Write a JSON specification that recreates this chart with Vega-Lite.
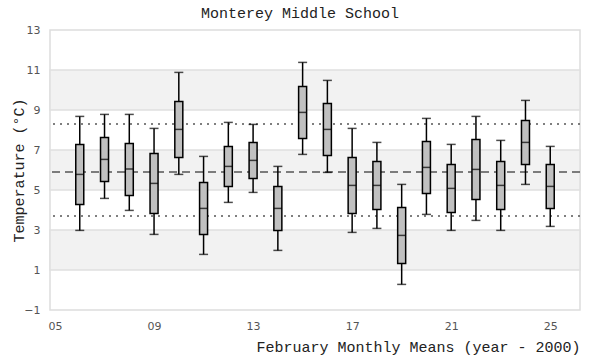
{
  "$schema": "https://vega.github.io/schema/vega-lite/v6.json",
  "autosize": "none",
  "width": 530,
  "height": 280,
  "padding": {"left": 50, "top": 30, "right": 20, "bottom": 50},
  "background": "white",
  "title": {"text": "Monterey Middle School", "font": "Liberation Mono", "fontSize": 15, "fontWeight": "normal", "color": "#222", "anchor": "middle", "dx": -15, "offset": 3},
  "config": {
    "view": {"stroke": "#dddddd", "strokeWidth": 1.5},
    "axis": {"labelFont": "DejaVu Sans", "labelFontSize": 11, "labelColor": "#555", "labelOverlap": false, "titleFont": "Liberation Mono", "titleFontSize": 15, "titleFontWeight": "normal", "titleColor": "#222", "domain": false, "ticks": false}
  },
  "datasets": {
    "boxes": [
      {"year": 6, "lo": 2.98, "q1": 4.28, "med": 5.78, "q3": 7.28, "hi": 8.68},
      {"year": 7, "lo": 4.58, "q1": 5.43, "med": 6.53, "q3": 7.63, "hi": 8.78},
      {"year": 8, "lo": 3.98, "q1": 4.73, "med": 6.05, "q3": 7.33, "hi": 8.78},
      {"year": 9, "lo": 2.78, "q1": 3.83, "med": 5.33, "q3": 6.83, "hi": 8.08},
      {"year": 10, "lo": 5.78, "q1": 6.63, "med": 8.03, "q3": 9.43, "hi": 10.88},
      {"year": 11, "lo": 1.78, "q1": 2.78, "med": 4.08, "q3": 5.38, "hi": 6.68},
      {"year": 12, "lo": 4.38, "q1": 5.18, "med": 6.18, "q3": 7.18, "hi": 8.38},
      {"year": 13, "lo": 4.88, "q1": 5.58, "med": 6.48, "q3": 7.38, "hi": 8.28},
      {"year": 14, "lo": 1.98, "q1": 2.98, "med": 4.08, "q3": 5.18, "hi": 6.18},
      {"year": 15, "lo": 6.78, "q1": 7.58, "med": 8.88, "q3": 10.18, "hi": 11.38},
      {"year": 16, "lo": 5.88, "q1": 6.73, "med": 8.03, "q3": 9.33, "hi": 10.48},
      {"year": 17, "lo": 2.88, "q1": 3.83, "med": 5.23, "q3": 6.63, "hi": 8.08},
      {"year": 18, "lo": 3.08, "q1": 4.03, "med": 5.23, "q3": 6.43, "hi": 7.38},
      {"year": 19, "lo": 0.28, "q1": 1.33, "med": 2.73, "q3": 4.13, "hi": 5.28},
      {"year": 20, "lo": 3.78, "q1": 4.83, "med": 6.13, "q3": 7.43, "hi": 8.58},
      {"year": 21, "lo": 2.98, "q1": 3.88, "med": 5.08, "q3": 6.28, "hi": 7.28},
      {"year": 22, "lo": 3.48, "q1": 4.53, "med": 6.03, "q3": 7.53, "hi": 8.68},
      {"year": 23, "lo": 2.98, "q1": 4.03, "med": 5.23, "q3": 6.43, "hi": 7.48},
      {"year": 24, "lo": 5.28, "q1": 6.28, "med": 7.38, "q3": 8.48, "hi": 9.48},
      {"year": 25, "lo": 3.18, "q1": 4.08, "med": 5.18, "q3": 6.28, "hi": 7.18}
    ],
    "bands": [
      {"from": 9, "to": 11},
      {"from": 5, "to": 7},
      {"from": 1, "to": 3}
    ],
    "mean": [{"v": 5.9}],
    "spread": [{"v": 8.3}, {"v": 3.7}]
  },
  "encoding": {
    "y": {"type": "quantitative", "scale": {"domain": [-1, 13], "nice": false, "zero": false},
          "axis": {"title": "Temperature (°C)", "values": [-1, 1, 3, 5, 7, 9, 11, 13], "grid": false, "labelPadding": 10, "titlePadding": -3, "labelOverlap": false, "labelBound": false}}
  },
  "layer": [
    {
      "data": {"name": "bands"},
      "mark": {"type": "rect", "fill": "#f2f2f2", "stroke": "#e0e0e0", "strokeWidth": 1.5},
      "encoding": {
        "y": {"field": "from", "type": "quantitative", "title": "Temperature (°C)"},
        "y2": {"field": "to"}
      }
    },
    {
      "data": {"name": "spread"},
      "mark": {"type": "rule", "color": "#555", "strokeWidth": 1.5, "strokeDash": [2, 5]},
      "encoding": {"y": {"field": "v", "type": "quantitative", "title": "Temperature (°C)"}}
    },
    {
      "data": {"name": "mean"},
      "mark": {"type": "rule", "color": "#555", "strokeWidth": 1.5, "strokeDash": [8, 5]},
      "encoding": {"y": {"field": "v", "type": "quantitative", "title": "Temperature (°C)"}}
    },
    {
      "data": {"name": "boxes"},
      "encoding": {
        "x": {"field": "year", "type": "quantitative", "scale": {"domain": [5, 26], "nice": false, "zero": false},
              "axis": {"title": "February Monthly Means (year - 2000)", "values": [5, 9, 13, 17, 21, 25], "grid": false, "labelPadding": 10, "labelExpr": "datum.value < 10 ? '0' + datum.value : '' + datum.value", "titleAnchor": "end", "titlePadding": 8}}
      },
      "layer": [
        {
          "mark": {"type": "rule", "color": "black", "strokeWidth": 1.5},
          "encoding": {"y": {"field": "lo", "type": "quantitative", "title": "Temperature (°C)"}, "y2": {"field": "hi"}}
        },
        {
          "mark": {"type": "tick", "orient": "horizontal", "color": "black", "size": 9, "thickness": 1.5},
          "encoding": {"y": {"field": "lo", "type": "quantitative", "title": "Temperature (°C)"}}
        },
        {
          "mark": {"type": "tick", "orient": "horizontal", "color": "black", "size": 9, "thickness": 1.5},
          "encoding": {"y": {"field": "hi", "type": "quantitative", "title": "Temperature (°C)"}}
        },
        {
          "mark": {"type": "bar", "fill": "#c0c0c0", "stroke": "black", "strokeWidth": 1.5, "size": 8},
          "encoding": {"y": {"field": "q1", "type": "quantitative", "title": "Temperature (°C)"}, "y2": {"field": "q3"}}
        },
        {
          "mark": {"type": "tick", "orient": "horizontal", "color": "black", "size": 8, "thickness": 1.5},
          "encoding": {"y": {"field": "med", "type": "quantitative", "title": "Temperature (°C)"}}
        }
      ]
    }
  ]
}
